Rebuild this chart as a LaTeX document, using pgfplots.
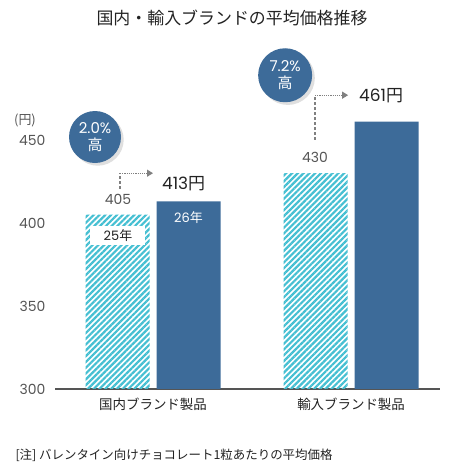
\documentclass[border=0pt]{standalone}
\usepackage{pgfplots}
\pgfplotsset{compat=1.18}
\usetikzlibrary{patterns.meta,arrows.meta,shadows}
\usepackage{fontspec}
\setmainfont{Noto Sans CJK JP}
\newfontfamily\numf{Poppins}
\definecolor{navy}{HTML}{3D6B99}
\definecolor{cyanh}{HTML}{45BFD2}
\definecolor{txt}{HTML}{222222}
\definecolor{gtxt}{HTML}{555555}
\definecolor{axisgray}{HTML}{555555}

\begin{document}
\begin{tikzpicture}[x=1bp,y=1bp]
\path[use as bounding box] (0,0) rectangle (455,471);
% title
\node[font=\fontsize{17}{17}\selectfont, text=txt] at (232,453) {国内・輸入ブランドの平均価格推移};

\begin{axis}[
    at={(55bp,82bp)}, anchor=south west,
    scale only axis, width=385bp, height=282.2bp,
    xmin=-0.495, xmax=1.449,
    ymin=300, ymax=470,
    clip=false,
    axis x line*=bottom, axis y line*=left,
    y axis line style={draw=none},
    x axis line style={draw=axisgray, line width=1.3bp, -},
    xtick={0,1}, xticklabels={国内ブランド製品, 輸入ブランド製品},
    xtick style={draw=none}, ytick style={draw=none},
    ytick={300,350,400,450},
    xticklabel style={font=\fontsize{13.5}{13.5}\selectfont, text=txt, yshift=-5bp},
    yticklabel style={font=\numf\fontsize{14}{14}\selectfont, text=gtxt, xshift=-6bp},
    /pgf/number format/assume math mode=true,
]
% 25年 (hatched) and 26年 (solid)
\addplot[ybar, bar width=64bp, bar shift=-35.5bp, draw=none,
    pattern={Lines[angle=45, distance=4.1bp, line width=2.2bp]}, pattern color=cyanh]
    coordinates {(0,405) (1,430)};
\addplot[ybar, bar width=64bp, bar shift=35.5bp, draw=none, fill=navy]
    coordinates {(0,413) (1,461)};

% labels
\node[font=\numf\fontsize{14}{14}\selectfont, text=gtxt] at (axis cs:-0.177,414.5) {405};
\node[font=\numf\fontsize{14}{14}\selectfont, text=gtxt] at (axis cs:0.818,439.8) {430};
\node[anchor=west, inner sep=0, font=\fontsize{17}{17}\selectfont, text=txt] at (axis cs:0.045,424) {{\numf 413}円};
\node[anchor=west, inner sep=0, font=\fontsize{17}{17}\selectfont, text=txt] at (axis cs:1.04,477) {{\numf 461}円};
\node[fill=white, minimum width=55bp, minimum height=19bp, inner sep=0,
    font=\fontsize{13}{13}\selectfont, text=txt] at (axis cs:-0.177,392.2) {{\numf 25}年};
\node[font=\fontsize{13}{13}\selectfont, text=white] at (axis cs:0.179,403) {{\numf 26}年};

% arrows
\draw[gray, densely dashed, line width=1.2bp] (axis cs:-0.167,420.5) -- (axis cs:-0.167,430);
\draw[gray, densely dotted, line width=1.2bp, -{Triangle[length=6bp,width=7bp]}] (axis cs:-0.167,430) -- (axis cs:0.0,430);
\draw[gray, densely dashed, line width=1.2bp] (axis cs:0.818,450) -- (axis cs:0.818,477);
\draw[gray, densely dotted, line width=1.2bp, -{Triangle[length=6bp,width=7bp]}] (axis cs:0.818,477) -- (axis cs:0.985,477);

% circles
\node[circle, fill=navy, minimum size=52bp, inner sep=0, drop shadow={opacity=0.25},
    text=white, align=center, font=\fontsize{15}{17}\selectfont]
    at (axis cs:-0.293,451.8) {{\numf 2.0\%}\\高};
\node[circle, fill=navy, minimum size=54bp, inner sep=0, drop shadow={opacity=0.25},
    text=white, align=center, font=\fontsize{15}{17}\selectfont]
    at (axis cs:0.667,489) {{\numf 7.2\%}\\高};
\end{axis}

\node[font=\fontsize{13}{13}\selectfont, text=gtxt] at (25,351) {(円)};
\node[anchor=west, font=\fontsize{12.5}{12.5}\selectfont, text=txt] at (12,16) {[注] バレンタイン向けチョコレート1粒あたりの平均価格};
\end{tikzpicture}
\end{document}
